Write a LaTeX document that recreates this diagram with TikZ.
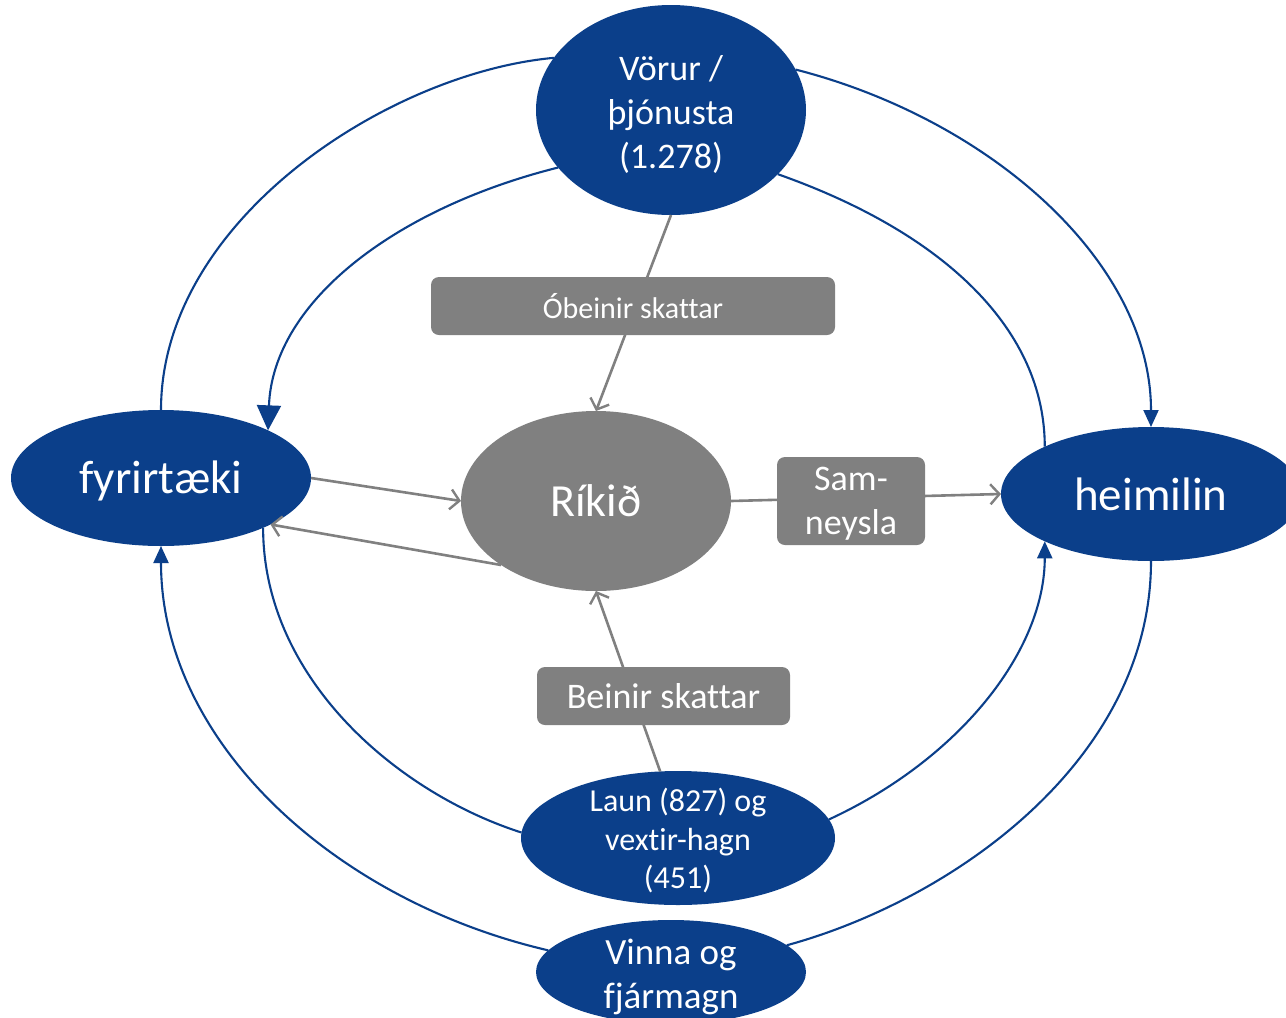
\documentclass[tikz,border=0pt]{standalone}
\usepackage{fontspec}
\setmainfont[Ligatures=NoCommon]{Carlito}
\usetikzlibrary{arrows.meta,shapes.geometric}
\definecolor{dblue}{RGB}{11,63,138}
\definecolor{gfill}{RGB}{128,128,128}
\begin{document}
\begin{tikzpicture}[x=1pt,y=-1pt,
  bell/.style={ellipse, fill=dblue, draw=none, inner sep=0pt, outer sep=0pt},
  gell/.style={ellipse, fill=gfill, draw=none, inner sep=0pt, outer sep=0pt},
  wtxt/.style={text=white, align=center, inner sep=0pt},
  gbox/.style={rectangle, rounded corners=8pt, fill=gfill, text=white, align=center, inner sep=0pt},
  bline/.style={draw=dblue, line width=2.1pt},
  barrow/.style={-{Triangle[length=17pt,width=15pt]}},
  bigarrow/.style={-{Triangle[length=25pt,width=24pt]}},
  gline/.style={draw=gfill, line width=2.6pt},
  garrow/.style={-{Straight Barb[length=9pt,width=20pt,line width=2.4pt]}}
]
\clip (0,0) rectangle (1286,1018);
\fill[white] (0,0) rectangle (1286,1018);

% ellipses
\node[bell, minimum width=270pt, minimum height=210pt] (vor) at (671,110) {};
\node[bell, minimum width=300pt, minimum height=136pt] (fyr) at (161,478) {};
\node[bell, minimum width=300pt, minimum height=134pt] (heim) at (1151,494) {};
\node[gell, minimum width=270pt, minimum height=180pt] (rik) at (596,501) {};
\node[bell, minimum width=314pt, minimum height=134pt] (lau) at (678,838) {};
\node[bell, minimum width=270pt, minimum height=104pt] (vin) at (671,972) {};

% labels
\node[wtxt, font=\fontsize{36}{44}\selectfont] (vort) at ([yshift=-4pt]vor) {Vörur /\\þjónusta\\(1.278)};
\node[wtxt, font=\fontsize{47}{56}\selectfont] (fyrt) at ([yshift=-3pt]fyr) {fyrirtæki};
\node[wtxt, font=\fontsize{47}{56}\selectfont] (heimt) at (heim) {heimilin};
\node[wtxt, font=\fontsize{46}{55}\selectfont] (rikt) at (rik) {Ríkið};
\node[wtxt, font=\fontsize{32}{38.5}\selectfont] (laut) at ([yshift=-3pt]lau) {Laun (827) og\\vextir-hagn\\(451)};
\node[wtxt, font=\fontsize{37}{44}\selectfont] (vint) at ([yshift=-5pt]vin) {Vinna og\\fjármagn};

% blue flows
\draw[bline] (fyr.north) .. controls +(0,-190) and +(-165,15) .. (vor.156);
\draw[bline, barrow] (vor.18) .. controls +(195,50) and +(0,-165) .. (heim.north);
\draw[bline, bigarrow] (vor.207) .. controls +(-160,40) and +(5,-130) .. (fyr.24);
\draw[bline] (vor.329) .. controls +(170,60) and +(0,-115) .. (heim.156);
\draw[bline] (fyr.334) .. controls +(0,150) and +(-125,-40) .. (lau.178);
\draw[bline, barrow] (lau.7) .. controls +(130,-60) and +(0,110) .. (heim.204);
\draw[bline] (heim.south) .. controls +(0,200) and +(165,-45) .. (vin.13);
\draw[bline, barrow] (vin.170) .. controls +(-215,-50) and +(0,195) .. (fyr.south);

% gray flows
\draw[gline, garrow] (vor.south) -- (rik.north);
\draw[gline, garrow] (fyr.east) -- (rik.west);
\draw[gline, garrow] (rik.214) -- (fyr.337);
\draw[gline, garrow] (rik.east) -- (heim.west);
\draw[gline, garrow] (lau.105) -- (rik.south);

% boxes
\node[gbox, minimum width=404pt, minimum height=58pt, font=\fontsize{30}{36}\selectfont] (obe) at (633,306) {Óbeinir skattar};
\node[gbox, minimum width=148pt, minimum height=88pt] (sam) at (851,501) {};
\node[wtxt, font=\fontsize{36}{44}\selectfont] (samt) at ([yshift=-3pt]sam) {Sam-\\neysla};
\node[gbox, minimum width=253pt, minimum height=58pt, font=\fontsize{36}{43}\selectfont] (bei) at (663.5,696) {Beinir skattar};
\end{tikzpicture}
\end{document}
